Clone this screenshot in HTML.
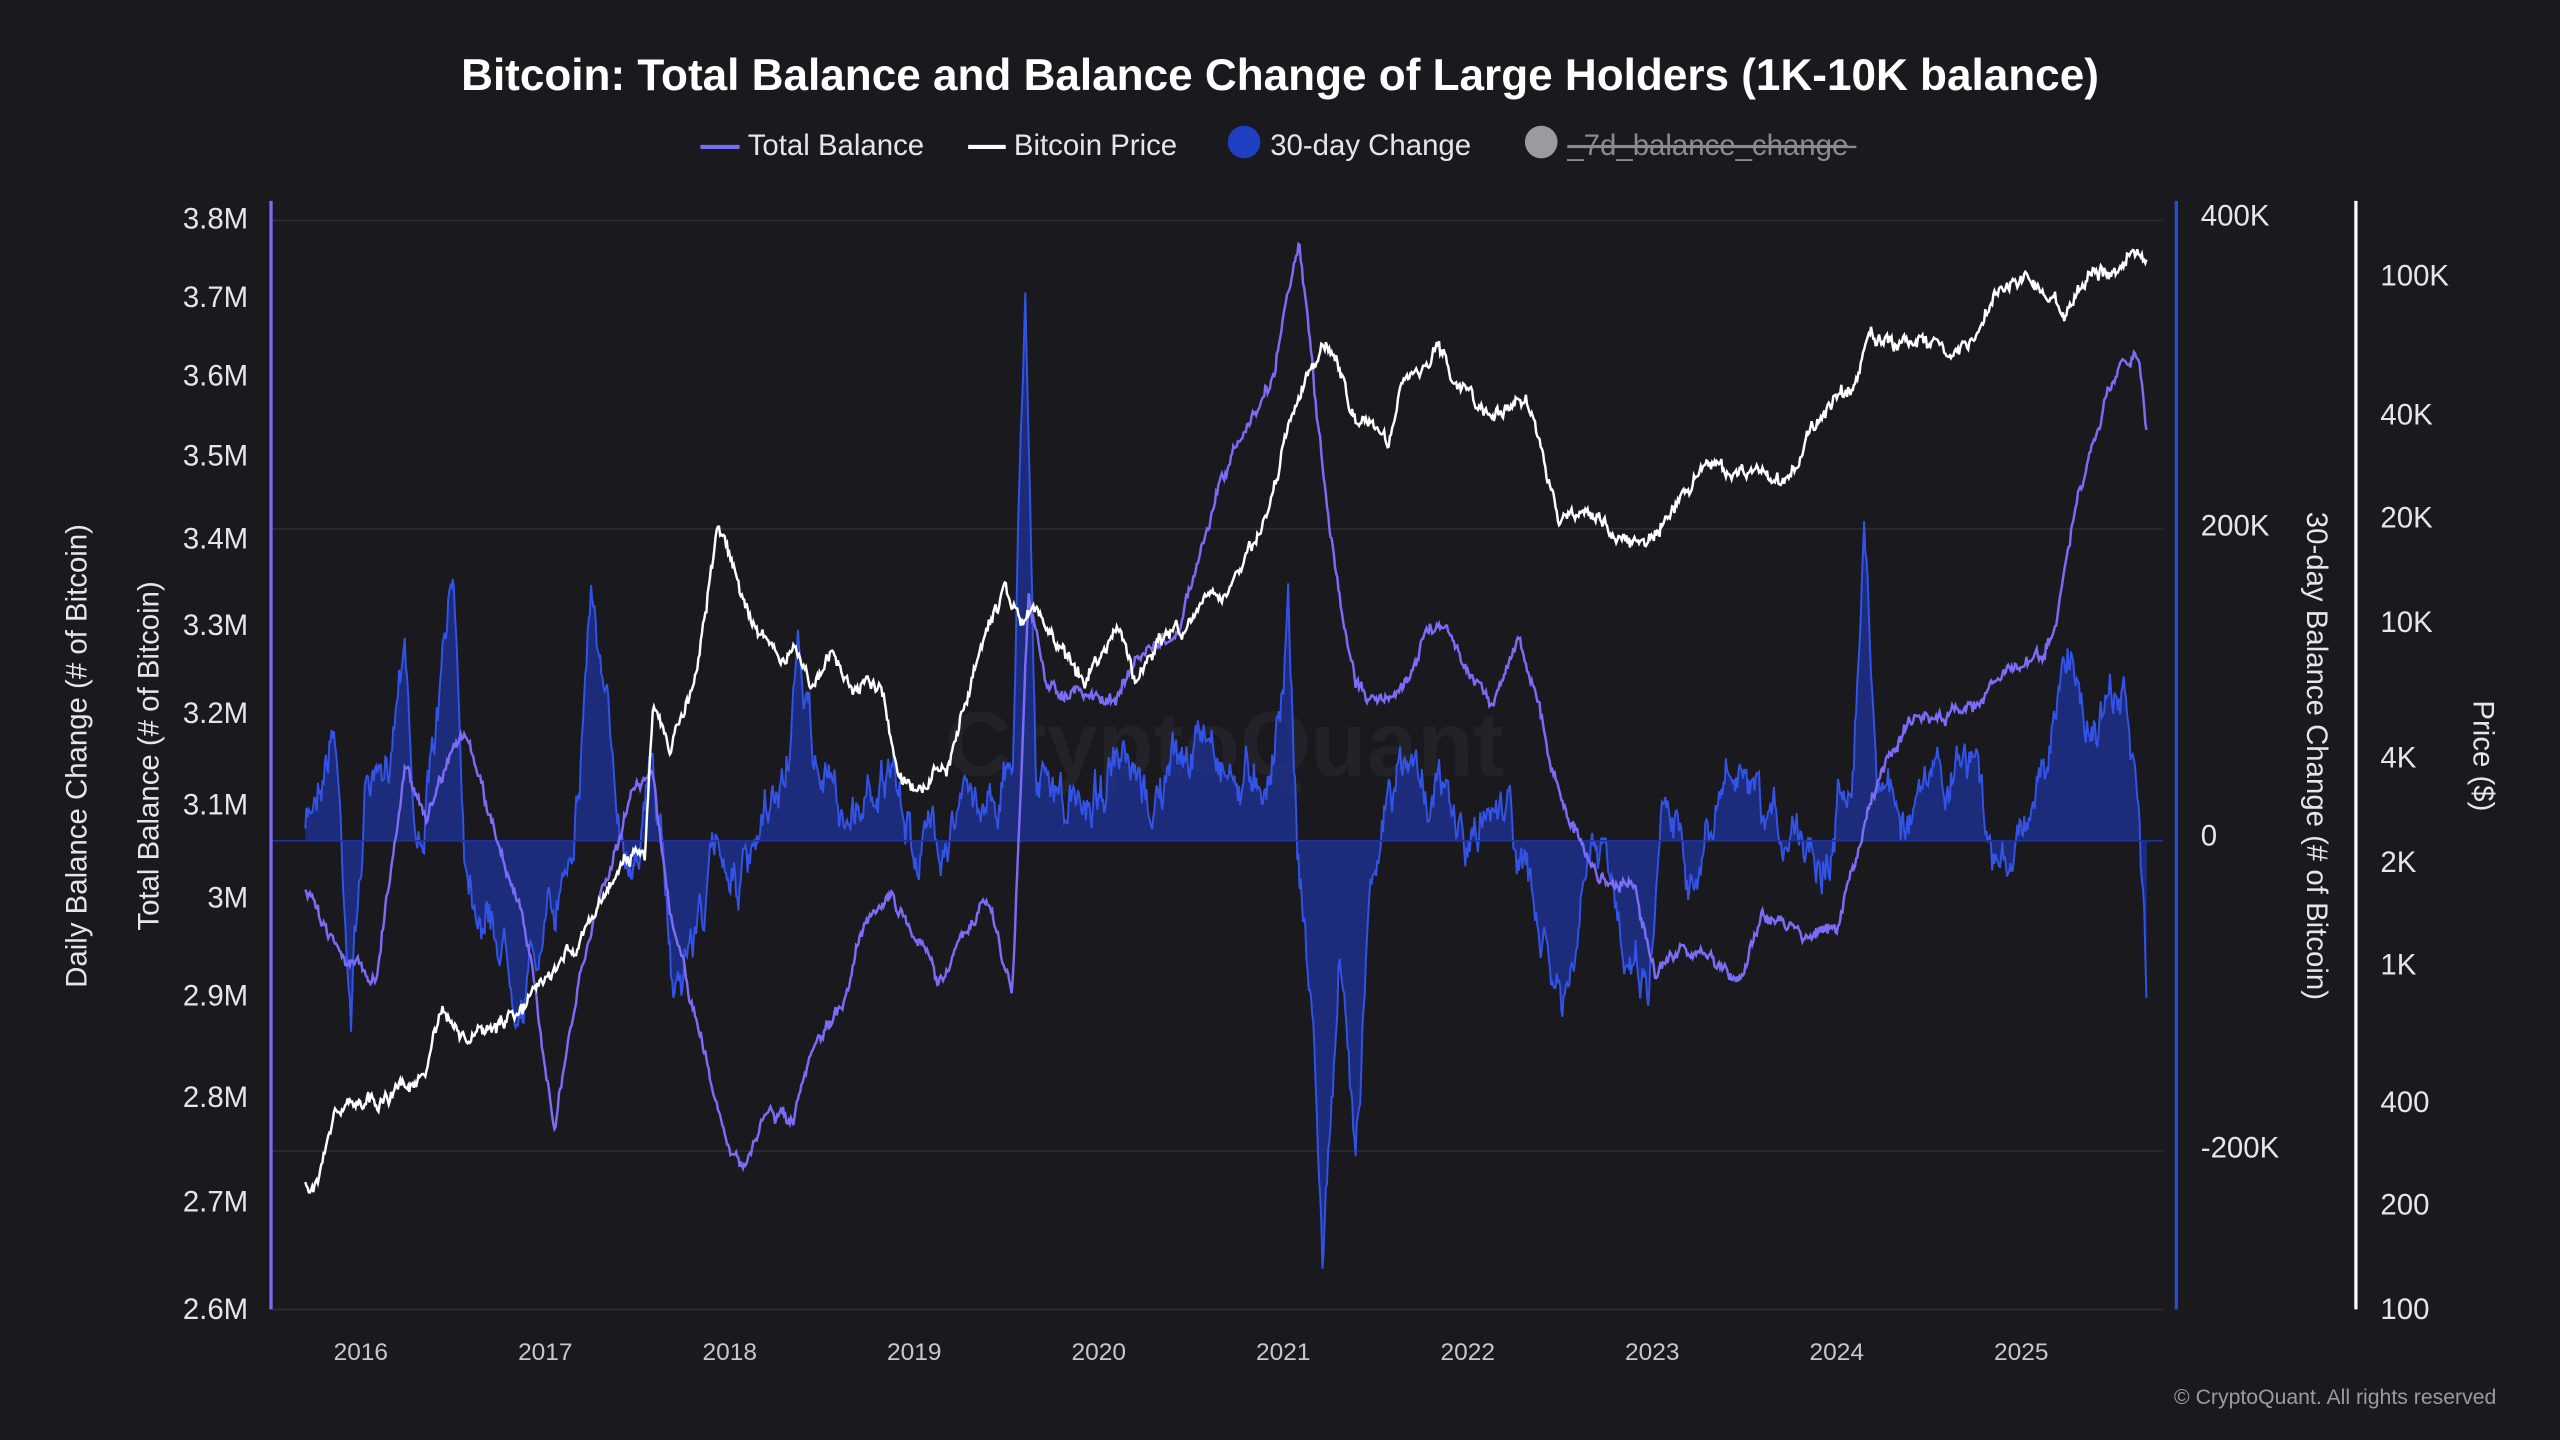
<!DOCTYPE html>
<html><head><meta charset="utf-8"><style>
html,body{margin:0;padding:0;background:#19191e;width:2560px;height:1440px;overflow:hidden}
svg{display:block}
text{font-family:"Liberation Sans",sans-serif}
</style></head><body>
<svg id="s" width="2560" height="1440" viewBox="0 0 1568 882" xmlns="http://www.w3.org/2000/svg">
<rect width="1568" height="882" fill="#19191e"/>
<text x="784" y="55" text-anchor="middle" fill="#fff" font-size="27" font-weight="bold">Bitcoin: Total Balance and Balance Change of Large Holders (1K-10K balance)</text>
<g font-size="18" fill="#e6e6ea">
<line x1="429" y1="90" x2="453" y2="90" stroke="#7b6cf6" stroke-width="2.5"/><text x="458" y="95">Total Balance</text>
<line x1="593" y1="90" x2="616" y2="90" stroke="#fff" stroke-width="2.5"/><text x="621" y="95">Bitcoin Price</text>
<circle cx="762" cy="87" r="10" fill="#1e3fc0"/><text x="778" y="95">30-day Change</text>
<circle cx="944" cy="87" r="10" fill="#9a9aa0"/><text x="960" y="95" fill="#8a8a90" text-decoration="line-through">_7d_balance_change</text>
<line x1="960" y1="90" x2="1137" y2="90" stroke="#8a8a90" stroke-width="1.5"/>
</g>
<g stroke="#2c2c33" stroke-width="1">
<line x1="167" y1="135" x2="1325" y2="135"/><line x1="167" y1="324" x2="1325" y2="324"/><line x1="167" y1="705" x2="1325" y2="705"/><line x1="167" y1="802" x2="1325" y2="802"/>
</g>
<text x="750" y="475" text-anchor="middle" fill="#222228" font-size="56" font-weight="bold">CryptoQuant</text>
<g id="plots"></g>
<line x1="166" y1="123" x2="166" y2="802" stroke="#7b6cf6" stroke-width="2"/>
<line x1="1333" y1="123" x2="1333" y2="802" stroke="#2a4ad8" stroke-width="2"/>
<line x1="1443" y1="123" x2="1443" y2="802" stroke="#fff" stroke-width="2"/>
<g font-size="18" fill="#e6e6ea" text-anchor="end">
<text x="152" y="140">3.8M</text><text x="152" y="188">3.7M</text><text x="152" y="236">3.6M</text><text x="152" y="285">3.5M</text><text x="152" y="336">3.4M</text><text x="152" y="389">3.3M</text><text x="152" y="443">3.2M</text><text x="152" y="499">3.1M</text><text x="152" y="556">3M</text><text x="152" y="616">2.9M</text><text x="152" y="678">2.8M</text><text x="152" y="742">2.7M</text><text x="152" y="808">2.6M</text>
</g>
<g font-size="18" fill="#e6e6ea">
<text x="1348" y="138">400K</text><text x="1348" y="328">200K</text><text x="1348" y="518">0</text><text x="1348" y="709">-200K</text>
<text x="1458" y="175">100K</text><text x="1458" y="260">40K</text><text x="1458" y="323">20K</text><text x="1458" y="387">10K</text><text x="1458" y="470">4K</text><text x="1458" y="534">2K</text><text x="1458" y="597">1K</text><text x="1458" y="681">400</text><text x="1458" y="744">200</text><text x="1458" y="808">100</text>
</g>
<g font-size="15" fill="#c8c8cc" text-anchor="middle">
<text x="221" y="833">2016</text><text x="334" y="833">2017</text><text x="447" y="833">2018</text><text x="560" y="833">2019</text><text x="673" y="833">2020</text><text x="786" y="833">2021</text><text x="899" y="833">2022</text><text x="1012" y="833">2023</text><text x="1125" y="833">2024</text><text x="1238" y="833">2025</text>
</g>
<g font-size="18" fill="#e6e6ea" text-anchor="middle">
<text transform="translate(53,463) rotate(-90)">Daily Balance Change (# of Bitcoin)</text>
<text transform="translate(97,463) rotate(-90)">Total Balance (# of Bitcoin)</text>
<text transform="translate(1413,463) rotate(90)">30-day Balance Change (# of Bitcoin)</text>
<text transform="translate(1515,463) rotate(90)">Price ($)</text>
</g>
<text x="1529" y="860" text-anchor="end" fill="#9a9aa0" font-size="13">© CryptoQuant. All rights reserved</text>
</svg>
<script>
var seed=7;function rnd(){seed=(seed*16807)%2147483647;return seed/2147483647;}
function interp(k,x){for(var i=0;i<k.length-1;i++){if(x>=k[i][0]&&x<=k[i+1][0]){var t=(x-k[i][0])/(k[i+1][0]-k[i][0]);return k[i][1]+t*(k[i+1][1]-k[i][1]);}}return k[k.length-1][1];}
var TB=[[187,548],[195,560],[215,590],[230,600],[248,470],[262,500],[275,460],[285,450],[300,500],[320,560],[340,690],[355,600],[370,540],[390,480],[400,470],[410,560],[425,620],[440,680],[455,720],[470,680],[485,690],[500,640],[515,620],[530,560],[545,550],[560,570],[575,600],[590,575],[605,550],[620,610],[630,360],[640,420],[660,425],[680,430],[700,400],[720,390],[735,340],[750,290],[765,260],[780,230],[790,170],[796,150],[805,240],[815,330],[825,390],[830,420],[850,430],[860,420],[870,395],[880,380],[890,390],[900,410],[915,430],[930,390],[940,420],[950,470],[965,510],[980,540],[1000,540],[1015,600],[1030,580],[1050,590],[1065,600],[1080,560],[1100,570],[1125,570],[1135,530],[1150,480],[1170,440],[1190,440],[1210,430],[1230,410],[1250,405],[1260,380],[1270,320],[1280,280],[1290,250],[1300,215],[1310,220],[1315,270]];
var PR=[[187,725],[195,725],[205,680],[215,675],[230,675],[260,660],[270,620],[285,640],[300,630],[320,620],[335,600],[350,580],[365,560],[380,530],[395,520],[400,430],[410,460],[425,420],[440,322],[450,350],[460,380],[475,400],[490,405],[500,420],[510,400],[520,420],[540,420],[550,470],[560,480],[580,470],[600,400],[615,360],[625,380],[635,375],[650,400],[665,415],[685,380],[695,420],[710,390],[725,385],[740,370],[750,365],[770,330],[780,300],[790,260],[800,230],[810,215],[820,225],[830,260],[840,260],[850,270],[860,230],[870,230],[880,210],[890,230],[905,250],[920,250],[935,245],[945,280],[955,320],[965,310],[980,320],[995,330],[1005,335],[1015,320],[1030,305],[1045,285],[1060,290],[1075,290],[1090,295],[1100,285],[1110,260],[1125,245],[1135,240],[1145,205],[1160,210],[1180,210],[1195,215],[1210,210],[1225,175],[1240,170],[1255,180],[1265,190],[1280,170],[1295,165],[1305,155],[1315,160]];
var CH=[[187,515],[195,470],[205,440],[215,610],[225,470],[235,500],[248,370],[255,520],[265,470],[278,355],[285,520],[300,560],[320,600],[340,560],[355,470],[362,350],[370,440],[385,520],[400,470],[412,600],[425,570],[440,520],[460,540],[480,480],[490,410],[500,470],[520,500],[540,470],[560,520],[580,500],[600,490],[620,470],[628,160],[635,480],[660,500],[680,470],[700,500],[720,470],[740,450],[760,480],[780,460],[789,370],[795,520],[805,640],[810,770],[820,600],[830,700],[840,520],[860,470],[880,480],[900,520],[920,480],[940,560],[950,600],[960,620],[975,520],[990,560],[1010,600],[1020,470],[1040,540],[1060,470],[1080,520],[1100,500],[1120,520],[1135,450],[1142,325],[1150,470],[1170,500],[1190,480],[1210,460],[1220,540],[1240,500],[1255,460],[1268,400],[1280,440],[1300,430],[1310,500],[1315,620]];
function build(k,noise,sm,jit){var pts=[],n=0;for(var x=187;x<=1315;x+=0.7){n=n*sm+(rnd()-0.5)*noise;pts.push([x,interp(k,x)+n+(rnd()-0.5)*jit]);}return pts;}
function d(p){return"M"+p.map(function(q){return q[0].toFixed(1)+","+q[1].toFixed(1)}).join("L");}
var g=document.getElementById("plots"),ns="http://www.w3.org/2000/svg";
function add(tag,attrs){var e=document.createElementNS(ns,tag);for(var a in attrs)e.setAttribute(a,attrs[a]);g.appendChild(e);}
var ch=build(CH,22,0.85,8);
add("path",{d:d(ch)+"L1315,515L187,515Z",fill:"#1d3399","fill-opacity":"0.75"});
add("path",{d:d(ch),fill:"none",stroke:"#3352e6","stroke-width":"1.2"});
add("line",{x1:167,y1:515,x2:1325,y2:515,stroke:"#1d3399","stroke-width":"1"});
add("path",{d:d(build(TB,6,0.8,4)),fill:"none",stroke:"#7b6cf6","stroke-width":"1.5"});
add("path",{d:d(build(PR,6,0.8,4)),fill:"none",stroke:"#ffffff","stroke-width":"1.5"});
</script>
</body></html>
